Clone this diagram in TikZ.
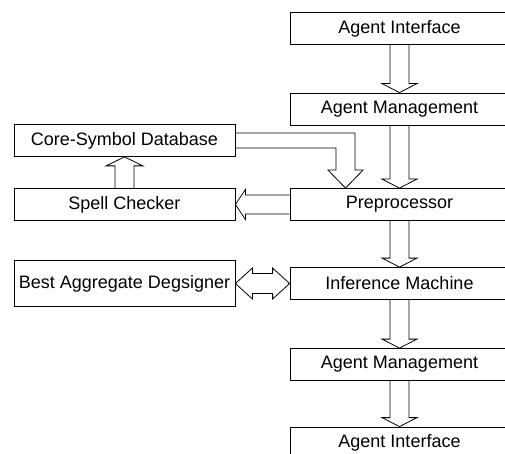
\documentclass[tikz,border=0pt]{standalone}
\usepackage{fontspec}
\setmainfont{Liberation Sans}
\usetikzlibrary{positioning,calc}

\tikzset{
  blk/.style={draw, line width=0.8pt, minimum width=219pt, minimum height=32pt,
    inner sep=0pt, font=\fontsize{18}{20}\selectfont},
  lblk/.style={blk, minimum width=221pt},
  % hollow block arrows
  blockdown/.style={line width=0.8pt, to path={let \p1=(\tikztostart), \p2=(\tikztotarget) in
    (\x1-9.5pt,\y1) -- (\x1-9.5pt,\y2+9pt) -- (\x1-17.5pt,\y2+9pt) -- (\x1,\y2)
    -- (\x1+17.5pt,\y2+9pt) -- (\x1+9.5pt,\y2+9pt) -- (\x1+9.5pt,\y1)}},
  blockup/.style={line width=0.8pt, to path={let \p1=(\tikztostart), \p2=(\tikztotarget) in
    (\x1-9.5pt,\y1) -- (\x1-9.5pt,\y2-9pt) -- (\x1-18.5pt,\y2-9pt) -- (\x1,\y2)
    -- (\x1+18.5pt,\y2-9pt) -- (\x1+9.5pt,\y2-9pt) -- (\x1+9.5pt,\y1)}},
  blockleft/.style={line width=0.8pt, to path={let \p1=(\tikztostart), \p2=(\tikztotarget) in
    (\x1,\y1+9.5pt) -- (\x2+10pt,\y1+9.5pt) -- (\x2+10pt,\y1+15pt) -- (\x2,\y1)
    -- (\x2+10pt,\y1-15pt) -- (\x2+10pt,\y1-9.5pt) -- (\x1,\y1-9.5pt)}},
  blockbend/.style={line width=0.8pt, to path={let \p1=(\tikztostart), \p2=(\tikztotarget) in
    (\x1,\y1+7.5pt) -- (\x2+9.5pt,\y1+7.5pt) -- (\x2+9.5pt,\y2+18pt) -- (\x2+17.5pt,\y2+18pt)
    -- (\x2,\y2) -- (\x2-17.5pt,\y2+18pt) -- (\x2-9.5pt,\y2+18pt) -- (\x2-9.5pt,\y1-7.5pt)
    -- (\x1,\y1-7.5pt)}},
  blockboth/.style={line width=0.8pt, to path={let \p1=(\tikztostart), \p2=(\tikztotarget) in
    (\x1,\y1) -- (\x1+17pt,\y1+15.5pt) -- (\x1+17pt,\y1+10pt) -- (\x2-17pt,\y1+10pt)
    -- (\x2-17pt,\y1+15.5pt) -- (\x2,\y1) -- (\x2-17pt,\y1-15.5pt) -- (\x2-17pt,\y1-10pt)
    -- (\x1+17pt,\y1-10pt) -- (\x1+17pt,\y1-15.5pt) -- cycle}}
}

\begin{document}
\begin{tikzpicture}[x=1pt,y=1pt,node distance=80pt,on grid]
  \useasboundingbox (0,0) rectangle (505,-454);

  \node[blk] (ai1) at (399.5,-28.5) {Agent Interface};
  \node[blk] (am1) [below of=ai1, node distance=80.5pt] {Agent Management};
  \node[blk] (pp)  [below of=am1, node distance=95.5pt] {Preprocessor};
  \node[blk] (im)  [below of=pp, node distance=79pt] {Inference Machine};
  \node[blk] (am2) [below of=im, node distance=81pt] {Agent Management};
  \node[blk] (ai2) [below of=am2, node distance=78.5pt] {Agent Interface};

  \node[lblk] (sc)  [left of=pp, node distance=275pt] {Spell Checker};
  \node[lblk] (csd) [above of=sc, node distance=64pt] {Core-Symbol Database};
  \node[lblk, minimum height=46pt] (bad) [left of=im, node distance=275pt] {Best Aggregate Degsigner};

  \coordinate (ppin) at ([xshift=-54pt]pp.north);

  \path (ai1.south) edge[blockdown] (am1.north)
        (am1.south) edge[blockdown] (pp.north)
        (pp.south)  edge[blockdown] (im.north)
        (im.south)  edge[blockdown] (am2.north)
        (am2.south) edge[blockdown] (ai2.north)
        (pp.west)   edge[blockleft] (sc.east)
        (sc.north)  edge[blockup]   (csd.south)
        (csd.east)  edge[blockbend] (ppin)
        (bad.east)  edge[blockboth] (im.west);
\end{tikzpicture}
\end{document}
